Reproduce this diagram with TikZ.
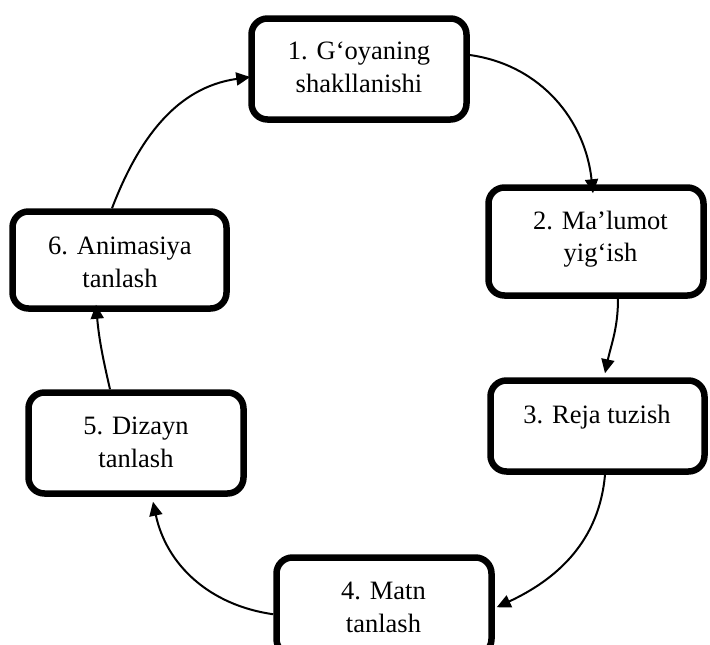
\documentclass[tikz,border=0pt]{standalone}
\usepackage{fontspec}
\setmainfont{Liberation Serif}
\usetikzlibrary{arrows.meta}
\begin{document}
\begin{tikzpicture}[x=1pt,y=1pt,
  stepbox/.style={draw=black, line width=6.5pt, rounded corners=16pt, minimum width=215pt, inner sep=0pt, fill=white},
  lbl/.style={font=\fontsize{26.5pt}{32.5pt}\selectfont, align=center, inner sep=0pt},
  flow/.style={line width=2pt, -{Triangle[length=14pt,width=13pt]}}
]
\useasboundingbox (0,0) rectangle (710,-645);
\fill[white] (0,0) rectangle (710,-645);
\clip (0,0) rectangle (710,-645);
% boxes
\node[stepbox, minimum height=101pt] (b1) at (359,-69) {};
\node[stepbox, minimum height=108pt] (b2) at (596,-241.5) {};
\node[stepbox, minimum width=214pt, minimum height=91pt] (b3) at (597.5,-426) {};
\node[stepbox, minimum height=97.5pt] (b4) at (384,-606.25) {};
\node[stepbox, minimum height=101pt] (b5) at (136,-443) {};
\node[stepbox, minimum width=214pt, minimum height=97pt] (b6) at (119.5,-260) {};
% texts
\node[lbl] (t1) at (359,-67.25) {1. G‘oyaning\\shakllanishi};
\node[lbl] (t2) at (600.5,-239) {2. Ma’lumot\\yig‘ish};
\node[lbl] (t3) at (597,-417) {3. Reja tuzish};
\node[lbl] (t4) at (383.5,-607.25) {4. Matn\\tanlash};
\node[lbl] (t5) at (136,-442.25) {5. Dizayn\\tanlash};
\node[lbl] (t6) at (120,-262.25) {6. Animasiya\\tanlash};
% connectors
\draw[flow] ([yshift=14pt]b1.east) to[out=-8,in=96] ([xshift=-3pt,yshift=-9pt]b2.north);
\draw[flow] ([xshift=22pt]b2.south) to[out=-90,in=78] ([xshift=7.5pt,yshift=4pt]b3.north);
\draw[flow] ([xshift=7.5pt]b3.south) to[out=-95,in=25] ([xshift=2pt,yshift=-1pt]b4.east);
\draw[flow] ([yshift=-8pt]b4.west) to[out=172,in=-78] ([xshift=17pt,yshift=-5pt]b5.south);
\draw[flow] ([xshift=-26pt]b5.north) to[out=103,in=-85] ([xshift=-23.5pt,yshift=7pt]b6.south);
\draw[flow] ([xshift=-7.5pt]b6.north) to[out=69,in=188] ([xshift=2pt,yshift=-8pt]b1.west);
\end{tikzpicture}
\end{document}
